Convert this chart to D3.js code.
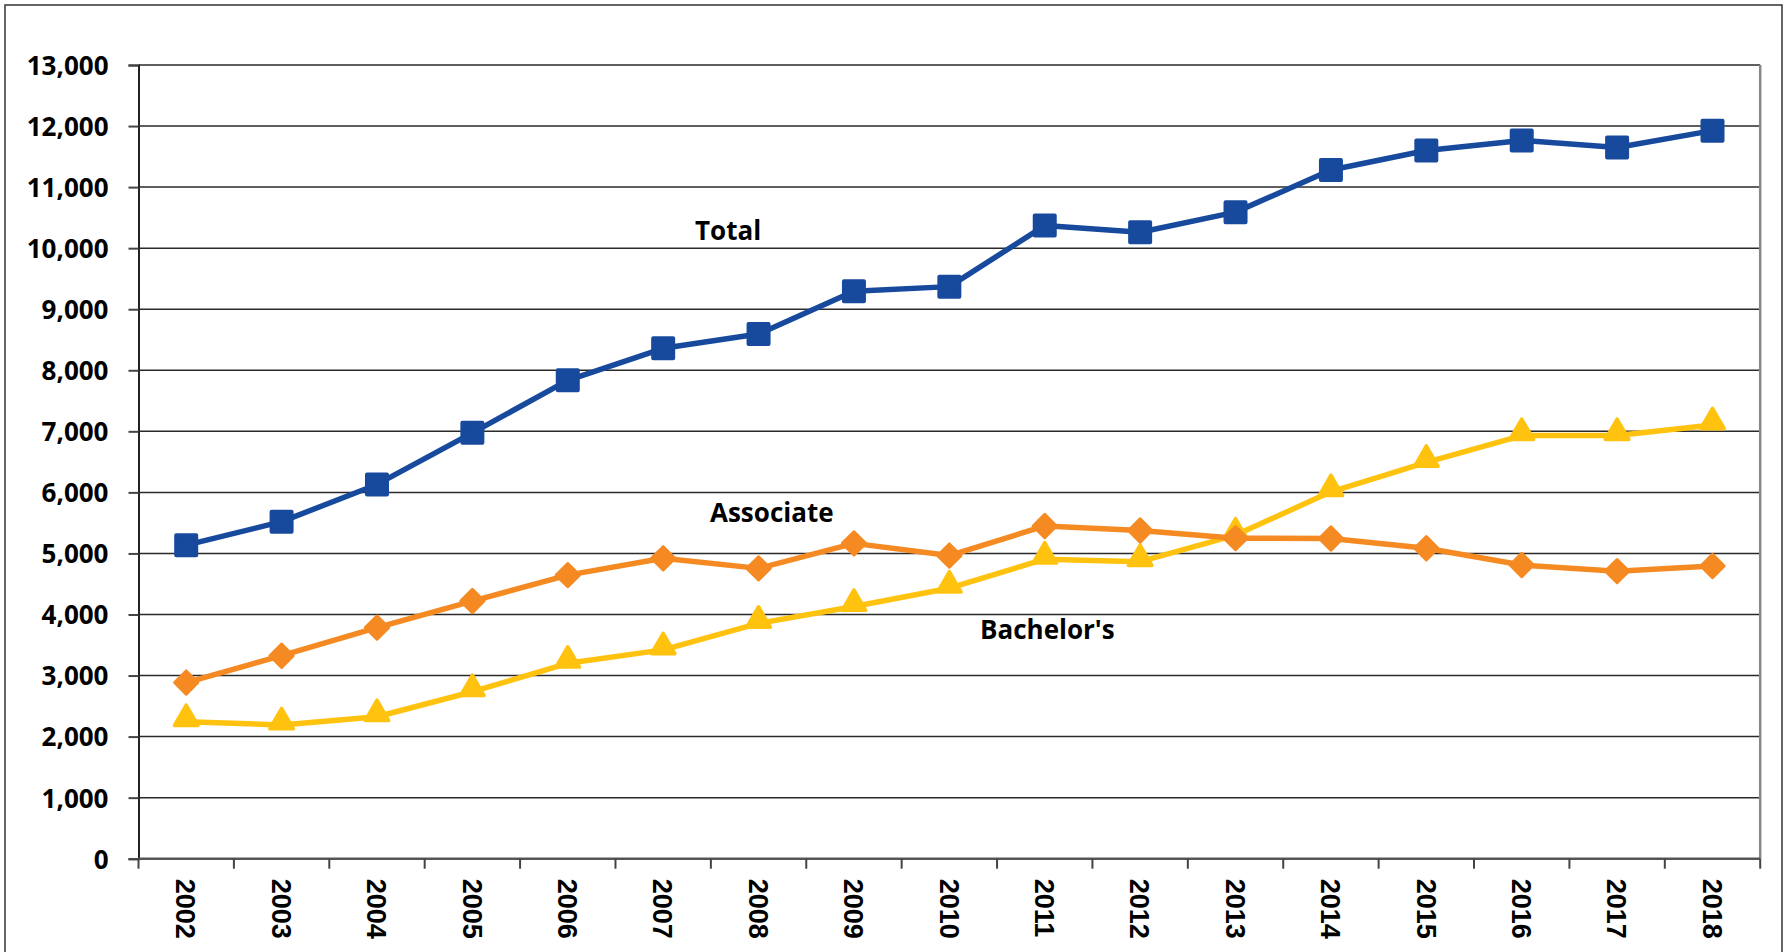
<!DOCTYPE html>
<html>
<head>
<meta charset="utf-8">
<script src="https://cdn.jsdelivr.net/npm/d3@7"></script>
<style>
  body { margin: 0; background: #fff; }
  svg { display: block; }
</style>
</head>
<body>
<svg id="chart"></svg>
<script>
// data
const years = ["2002","2003","2004","2005","2006","2007","2008","2009","2010","2011","2012","2013","2014","2015","2016","2017","2018"];
const total = [5135, 5520, 6130, 6975, 7835, 8360, 8595, 9295, 9370, 10370, 10260, 10590, 11280, 11600, 11765, 11650, 11925];
const associate = [2885, 3325, 3785, 4220, 4645, 4920, 4755, 5165, 4965, 5450, 5375, 5250, 5245, 5085, 4810, 4710, 4795];
const bachelors = [2245, 2190, 2325, 2735, 3200, 3420, 3855, 4130, 4430, 4905, 4865, 5300, 6010, 6490, 6930, 6930, 7105];
const yTicks = [0, 1000, 2000, 3000, 4000, 5000, 6000, 7000, 8000, 9000, 10000, 11000, 12000, 13000];

const W = 1787, H = 952;
const margin = {left: 138.5, right: W - 1760.2, top: 65, bottom: H - 858.7};

const svg = d3.select('#chart').attr('width', W).attr('height', H);

// outer frame
svg.append('rect')
    .attr('x', 5).attr('y', 5)
    .attr('width', W - 10).attr('height', H + 10)
    .attr('fill', 'none')
    .attr('stroke', '#333')
    .attr('stroke-width', 1.5);

const x = d3.scaleBand().domain(years).range([margin.left, W - margin.right]);
const y = d3.scaleLinear().domain([0, 13000]).range([H - margin.bottom, margin.top]);

// gridlines
svg.append('g')
    .selectAll('line')
    .data(yTicks.filter(d => d > 0))
    .join('line')
    .attr('x1', margin.left).attr('x2', W - margin.right)
    .attr('y1', d => y(d)).attr('y2', d => y(d))
    .attr('stroke', '#2a2a2a')
    .attr('stroke-width', 1.5);

// right edge of plot area
svg.append('line')
    .attr('x1', W - margin.right).attr('x2', W - margin.right)
    .attr('y1', margin.top).attr('y2', H - margin.bottom)
    .attr('stroke', '#888').attr('stroke-width', 2.5);

// y axis
const yAxis = svg.append('g')
    .attr('transform', `translate(${margin.left},0)`)
    .call(d3.axisLeft(y).tickValues(yTicks).tickSize(10).tickPadding(20).tickFormat(d3.format(',')));
yAxis.select('.domain').attr('stroke', '#222').attr('stroke-width', 2);
yAxis.selectAll('.tick line').attr('stroke', '#444').attr('stroke-width', 2);
yAxis.selectAll('text')
    .attr('font-family', '"Open Sans", sans-serif')
    .attr('font-weight', 700)
    .attr('font-size', 26)
    .attr('fill', '#000')
    .attr('dy', '0.36em');

// x axis (ticks on band edges)
const xAxisG = svg.append('g').attr('transform', `translate(0,${H - margin.bottom})`);
xAxisG.append('line')
    .attr('x1', margin.left).attr('x2', W - margin.right)
    .attr('stroke', '#555').attr('stroke-width', 2.5);
const edges = years.map(d => x(d)).concat([W - margin.right]);
xAxisG.selectAll('.xt')
    .data(edges)
    .join('line')
    .attr('class', 'xt')
    .attr('x1', d => d).attr('x2', d => d)
    .attr('y1', 0).attr('y2', 10)
    .attr('stroke', '#444').attr('stroke-width', 2);
xAxisG.selectAll('text')
    .data(years)
    .join('text')
    .attr('transform', d => `translate(${x(d) + x.bandwidth() / 2},20) rotate(90)`)
    .attr('dy', '0.36em')
    .attr('text-anchor', 'start')
    .attr('font-family', '"Liberation Sans", Arial, sans-serif')
    .attr('font-weight', 700)
    .attr('font-size', 27)
    .attr('fill', '#000')
    .text(d => d);

const cx = d => x(d) + x.bandwidth() / 2;

const series = [
    {name: 'Total', values: total, color: '#174a9c', symbol: d3.symbolSquare, size: 400, rot: 0, dy: 0, sw: 4},
    {name: 'Associate', values: associate, color: '#f58a23', symbol: d3.symbolSquare, size: 270, rot: 45, dy: 0, sw: 3},
    {name: "Bachelor's", values: bachelors, color: '#ffc30f', symbol: d3.symbolTriangle, size: 240, rot: 0, dy: -3, sw: 3.5}
];

const line = d3.line()
    .x((d, i) => cx(years[i]))
    .y(d => y(d));

// draw bottom series first
series.slice().reverse().forEach(s => {
    const g = svg.append('g');
    g.append('path')
        .datum(s.values)
        .attr('d', line)
        .attr('fill', 'none')
        .attr('stroke', s.color)
        .attr('stroke-width', 5.5)
        .attr('stroke-linejoin', 'round');
    g.selectAll('path.m')
        .data(s.values)
        .join('path')
        .attr('class', 'm')
        .attr('d', d3.symbol().type(s.symbol).size(s.size))
        .attr('transform', (d, i) => `translate(${cx(years[i])},${y(d) + s.dy}) rotate(${s.rot})`)
        .attr('fill', s.color)
        .attr('stroke', s.color)
        .attr('stroke-width', s.sw)
        .attr('stroke-linejoin', 'round');
});

// series labels
const labels = [
    {text: 'Total', x: 695, y: 240},
    {text: 'Associate', x: 710, y: 522},
    {text: "Bachelor's", x: 980, y: 639}
];
svg.selectAll('text.lbl')
    .data(labels)
    .join('text')
    .attr('class', 'lbl')
    .attr('x', d => d.x).attr('y', d => d.y)
    .attr('font-family', '"Open Sans", sans-serif')
    .attr('font-weight', 700)
    .attr('font-size', 26)
    .attr('fill', '#000')
    .text(d => d.text);
</script>
</body>
</html>
